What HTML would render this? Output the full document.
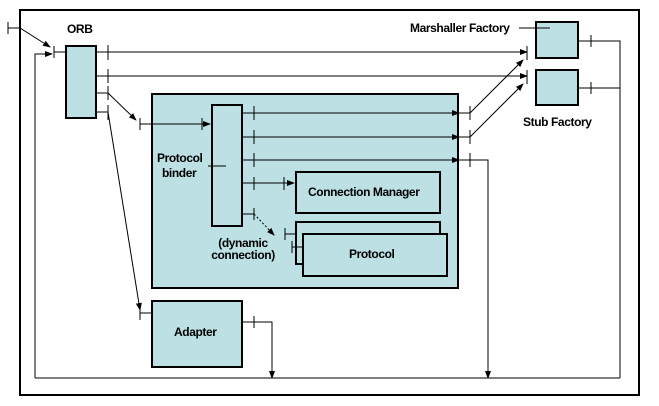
<!DOCTYPE html>
<html><head><style>body{margin:0;background:#fff}svg{display:block}text{font-family:"Liberation Sans",sans-serif;font-size:12px;font-weight:bold;letter-spacing:-0.4px}</style></head><body>
<svg width="659" height="406" viewBox="0 0 659 406">
<defs><marker id="a" markerWidth="8" markerHeight="8" refX="7" refY="4" orient="auto" markerUnits="userSpaceOnUse"><path d="M0,1 L8,4 L0,7z" fill="#000"/></marker></defs>
<rect x="20" y="10" width="619" height="385" fill="none" stroke="#000" stroke-width="2"/>
<g fill="#bce0e3" stroke="#000" stroke-width="2">
<rect x="152" y="94" width="306" height="194"/>
<rect x="66" y="46" width="30" height="72"/>
<rect x="536" y="22" width="42" height="36"/>
<rect x="536" y="70" width="42" height="35"/>
<rect x="212" y="105" width="30" height="121"/>
<rect x="296" y="172" width="144" height="41"/>
<rect x="296" y="222" width="144" height="42"/>
<rect x="303" y="234" width="144" height="42"/>
<rect x="152" y="301" width="90" height="66"/>
</g>
<g stroke="#000" stroke-width="1" fill="none">
<path d="M8,22V34M8,28H20L50,47" marker-end="url(#a)"/>
<path d="M35,378V54H52" marker-end="url(#a)"/>
<path d="M54,46V58M54,52H66"/>
<path d="M96,52H527" marker-end="url(#a)"/><path d="M96,76H527" marker-end="url(#a)"/>
<path d="M108,45V60M108,69V83M108,86V100M108,105V120M527,46V60M527,70V84"/>
<path d="M96,93H108L136,120" marker-end="url(#a)"/>
<path d="M140,118V130M140,124H210" marker-end="url(#a)"/><path d="M202,118V130"/>
<path d="M96,112H108L140,310" marker-end="url(#a)"/>
<path d="M140,305V320M140,313H152"/>
<path d="M242,322H272V378" marker-end="url(#a)"/><path d="M254,316V328"/>
<path d="M519,28H550"/>
<path d="M578,41H620V378M578,88H620M591,35V47M591,82V94"/>
<path d="M35,378H620"/>
<path d="M242,113H459" marker-end="url(#a)"/><path d="M242,137H459" marker-end="url(#a)"/><path d="M242,160H459" marker-end="url(#a)"/>
<path d="M459,113H470L523,60" marker-end="url(#a)"/><path d="M459,137H470L523,84" marker-end="url(#a)"/>
<path d="M459,160H488V378" marker-end="url(#a)"/>
<path d="M470,106V120M470,130V144M470,153V167M254,106V120M254,130V144M254,153V167M254,177V190"/>
<path d="M242,183H294" marker-end="url(#a)"/><path d="M284,177V190"/>
<path d="M242,214H254M254,208V220"/>
<path d="M254,214L274,235" stroke-dasharray="2,2" marker-end="url(#a)"/>
<path d="M285,228V240M285,234H296M292,241V253M292,247H303"/>
<path d="M208,166H226"/>
</g>
<text x="67" y="33">ORB</text>
<text x="410" y="32">Marshaller Factory</text>
<text x="523" y="126">Stub Factory</text>
<text x="157" y="162">Protocol</text>
<text x="162" y="177">binder</text>
<text x="308" y="196">Connection Manager</text>
<text x="349" y="258">Protocol</text>
<text x="174" y="336">Adapter</text>
<text x="243" y="247" text-anchor="middle" font-size="9.5">(dynamic</text>
<text x="243" y="259" text-anchor="middle" font-size="9.5">connection)</text>
</svg></body></html>
